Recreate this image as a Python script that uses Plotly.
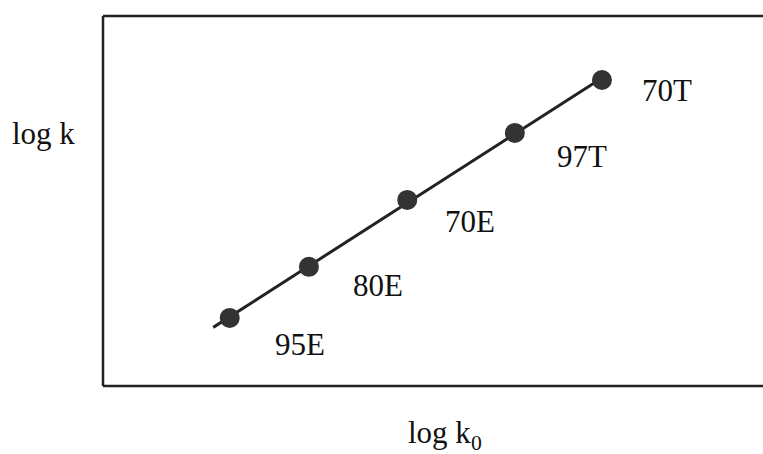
import numpy as np
import plotly.graph_objects as go

# Correlation of log k against log k0 for each solvent
solvents = ["95E", "80E", "70E", "97T", "70T"]
log_k0 = [1.92, 3.12, 4.61, 6.24, 7.56]
log_k = [1.84, 3.22, 5.03, 6.84, 8.27]

# Least-squares line drawn across the data span
slope, intercept = np.polyfit(log_k0, log_k, 1)
line_x = np.array([1.67, max(log_k0)])
line_y = slope * line_x + intercept

ink = "#222222"
serif = "Liberation Serif, Times New Roman, serif"

fig = go.Figure()
fig.add_trace(go.Scatter(
    x=line_x, y=line_y, mode="lines",
    line=dict(color=ink, width=3), hoverinfo="skip", showlegend=False,
))
fig.add_trace(go.Scatter(
    x=log_k0, y=log_k, mode="markers",
    marker=dict(size=20, color="#333333", line=dict(width=0)),
    showlegend=False,
))

# Point labels sit below-right of each marker
label_shift = {"95E": (70, -27), "80E": (69, -19), "70E": (63, -22),
               "97T": (67, -24), "70T": (65, -10)}
for name, xv, yv in zip(solvents, log_k0, log_k):
    dx, dy = label_shift[name]
    fig.add_annotation(
        x=xv, y=yv, xref="x", yref="y", text=name, showarrow=False,
        xanchor="center", yanchor="middle", xshift=dx, yshift=dy,
        font=dict(family=serif, size=31, color="#111111"),
    )

plot_w, plot_h = 763 - 103, 454 - 16 - 68

# Axis titles
fig.add_annotation(
    x=(44 - 103) / plot_w, y=(386 - 133) / plot_h,
    xref="paper", yref="paper", xanchor="center", yanchor="middle",
    text="log k", showarrow=False,
    font=dict(family=serif, size=31, color="#111111"),
)
fig.add_annotation(
    x=(445 - 103) / plot_w, y=(386 - 435) / plot_h,
    xref="paper", yref="paper", xanchor="center", yanchor="middle",
    text="log k<sub>0</sub>", showarrow=False,
    font=dict(family=serif, size=31, color="#111111"),
)

# Frame: left, top and bottom edges
for x0, y0, x1, y1 in [(0, 0, 0, 1), (0, 1, 1, 1), (0, 0, 1, 0)]:
    fig.add_shape(type="line", xref="paper", yref="paper",
                  x0=x0, y0=y0, x1=x1, y1=y1,
                  line=dict(color=ink, width=2.5))

fig.update_layout(
    width=763, height=454,
    margin=dict(l=103, r=0, t=16, b=68),
    paper_bgcolor="white", plot_bgcolor="white",
    xaxis=dict(range=[0, 10], visible=False),
    yaxis=dict(range=[0, 10], visible=False),
)

fig.write_html("out.html")
